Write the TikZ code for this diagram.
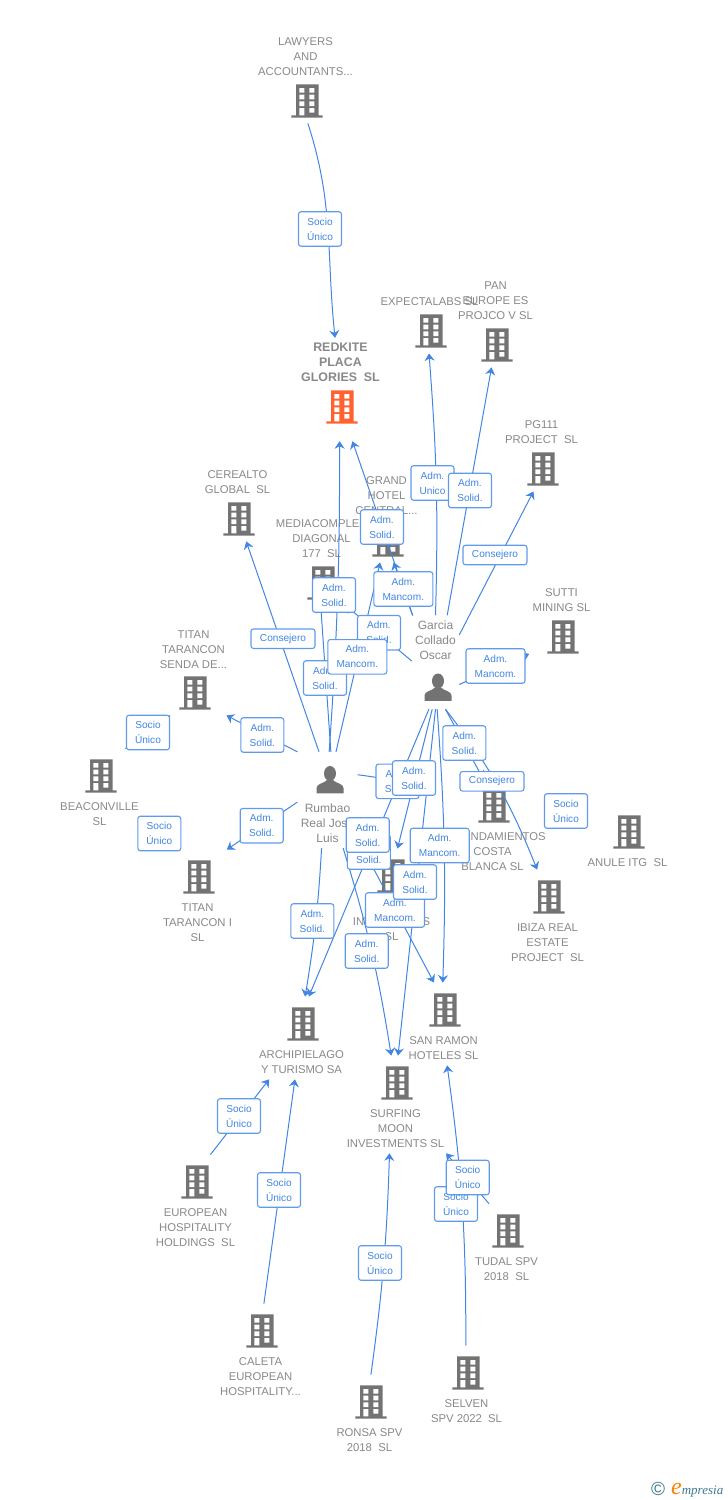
\documentclass[tikz,border=0pt]{standalone}
\usepackage{fontspec}
\setmainfont{Liberation Sans}
\newfontfamily\logofont{Liberation Serif}
\usetikzlibrary{positioning,fit,arrows.meta}
\definecolor{MyBlue}{RGB}{66,133,226}
\definecolor{MyEdge}{RGB}{96,155,235}
\definecolor{MyGrey}{RGB}{136,136,136}
\definecolor{MyIcon}{RGB}{115,115,115}
\definecolor{MyOrange}{RGB}{255,98,48}
\definecolor{MyTeal}{RGB}{60,120,145}
\tikzset{
  lbl/.style={font=\fontsize{11.3}{15}\selectfont, text=MyGrey, align=center, inner sep=0pt},
  slot above/.style={minimum width=32pt, minimum height=34pt, inner sep=0pt},
  slot below/.style={minimum width=32pt, minimum height=44pt, inner sep=0pt},
  text above/.style={above=7.5pt of #1},
  text below/.style={below=4.5pt of #1},
  box/.style={inner xsep=3pt, inner ysep=5pt},
  link/.style={MyBlue, line width=1pt, -{Stealth[length=7.5pt,width=10pt,inset=2.5pt]}},
  tag/.style={draw=MyEdge, line width=1.1pt, rounded corners=2.5pt, fill=white, text=MyBlue,
    font=\fontsize{10.1}{15}\selectfont, align=center, inner sep=0pt, minimum width=43pt, minimum height=34.5pt},
  wide/.style={minimum width=59pt},
  oneline/.style={minimum width=64pt, minimum height=19.5pt},
  bldg/.pic={
    \fill[pic actions] (-11,-16.7) rectangle (11.5,15) (-15.7,14.3) rectangle (15.7,16.7);
    \fill[white] (-7.7,-13) rectangle (-2.7,-8.3) (2.3,-13) rectangle (7.3,-8.3)
      (-7.7,-6.3) rectangle (-2.7,-1.7) (2.3,-6.3) rectangle (7.3,-1.7)
      (-7.7,.3) rectangle (-2.7,5) (2.3,.3) rectangle (7.3,5)
      (-7.7,7) rectangle (-2.7,14.3) (2.3,7) rectangle (7.3,11.7);
  },
  pers/.pic={
    \fill[pic actions] (0,-6.5) ellipse (6 and 7.5);
    \fill[pic actions] (-13.5,13.3) -- (-13.5,8) .. controls (-13.5,3.5) and (-6,3.5) .. (-3,0)
      -- (3,0) .. controls (6,3.5) and (13.5,3.5) .. (13.5,8) -- (13.5,13.3) -- cycle;
  }
}
% name, x, y, text, side of the text
\newcommand{\company}[6][MyIcon]{
  \node[slot #6] (#2i) at (#3,#4) {};
  \pic[#1] at (#2i) {bldg};
  \node[lbl, text #6=#2i, xshift=-1.5pt] (#2t) {#5};
  \node[box, fit=(#2i)(#2t)] (#2) {};
}
% name, x, y, text, side of the text, far end of the box
\newcommand{\person}[6]{
  \node[slot above, minimum height=27pt] (#1i) at (#2,#3) {};
  \pic[MyIcon] at (#1i) {pers};
  \node[lbl, font=\fontsize{12}{15}\selectfont, #5 #1i, xshift=-2.5pt] (#1t) {#4};
  \coordinate (#1e) at #6;
  \node[box, fit=(#1i)(#1t)(#1e)] (#1) {};
}
\newcommand{\mainline}[1]{{\fontsize{12.4}{15}\selectfont\bfseries #1}}
\begin{document}
\begin{tikzpicture}[x=1pt,y=-1pt,node distance=10pt]
\useasboundingbox (0,0) rectangle (728,1500);
% companies
\company{lawyers}{307}{101}{LAWYERS\\AND\\ACCOUNTANTS...}{above}
\company[MyOrange]{redkite}{342}{407}{\mainline{REDKITE}\\\mainline{PLACA}\\\mainline{GLORIES~~SL}}{above}
\coordinate (redkitef) at (342,441);
\node[inner sep=0pt, fit=(redkite)(redkitef)] (redkitex) {};
\company{expecta}{431}{331}{EXPECTALABS SL}{above}
\company{pan}{497}{345}{PAN\\EUROPE ES\\PROJCO V SL}{above}
\company{pgone}{543}{469}{PG111\\PROJECT~~SL}{above}
\company{sutti}{563}{637}{SUTTI\\MINING SL}{above}
\company{cerealto}{239}{519}{CEREALTO\\GLOBAL~~SL}{above}
\company{grand}{388}{540}{GRAND\\HOTEL\\CENTRAL...}{above}
\company{media}{323}{583}{MEDIACOMPLEX\\DIAGONAL\\177~~SL}{above}
\company{senda}{195}{693}{TITAN\\TARANCON\\SENDA DE...}{above}
\company{beacon}{101}{776}{BEACONVILLE\\SL}{below}
\company{titan}{199}{877}{TITAN\\TARANCON I\\SL}{below}
\company{arrend}{494}{806}{ARRENDAMIENTOS\\COSTA\\BLANCA SL}{below}
\company{anule}{629}{832}{ANULE ITG~~SL}{below}
\company{ibiza}{549}{897}{IBIZA REAL\\ESTATE\\PROJECT~~SL}{below}
\company{inver}{393}{876}{ALAMEDA\\INVERSIONES\\SL}{below}
\company{archi}{303}{1024}{ARCHIPIELAGO\\Y TURISMO SA}{below}
\company{ramon}{445}{1010}{SAN RAMON\\HOTELES SL}{below}
\company{surf}{397}{1083}{SURFING\\MOON\\INVESTMENTS SL}{below}
\company{euro}{197}{1182}{EUROPEAN\\HOSPITALITY\\HOLDINGS~~SL}{below}
\company{caleta}{262}{1331}{CALETA\\EUROPEAN\\HOSPITALITY...}{below}
\company{ronsa}{371}{1402}{RONSA SPV\\2018~~SL}{below}
\company{selven}{468}{1373}{SELVEN\\SPV 2022~~SL}{below}
\company{tudal}{508}{1231}{TUDAL SPV\\2018~~SL}{below}
% people
\person{garcia}{438}{687.5}{Garcia\\Collado\\Oscar}{above=14pt of}{(438,704)}
\person{rumbao}{330}{780}{Rumbao\\Real José\\Luis}{below=10pt of}{(327,757)}
% connectors
\draw[link] (lawyers.-87) to[out=-72,in=96] (redkitex.96.5);
\draw[link] (garcia.90.6) to[bend right=3] (expecta.-91.8);
\draw[link] (garcia.76.5) to (pan.-95);
\draw[link] (garcia.49) to (pgone.-102);
\draw[link] (garcia.-43) to (sutti.225);
\draw[link] (garcia.116.6) to (grand.-81);
\draw[link] (garcia.177.5) to (media.-62);
\draw[link] (garcia.116.6) to (redkitex.-77.5);
\draw[link] (rumbao.100.7) to (cerealto.-77.5);
\draw[link] (rumbao.122.4) to (senda.-54.4);
\draw[link] (rumbao.184) to (titan.59);
\draw[link] (rumbao.86.4) to (media.-91.3);
\draw[link] (rumbao.88.8) to[bend right=2] (redkitex.-91);
\draw[link] (rumbao.80.5) to (grand.-98);
\draw[link] (rumbao.-97.2) to[bend left=3] (archi.85.8);
\draw[link] (rumbao.-72.5) to[bend left=4] (surf.95.9);
\draw[link] (rumbao.40.4) to[bend left=5] (arrend.148);
\draw[link] (rumbao.-52) to (ramon.103);
\draw[link] (garcia.-94.2) to (inver.83.8);
\draw[link] (garcia.-98.9) to (archi.80.3);
\draw[link] (garcia.-90.6) to (surf.87.6);
\draw[link] (garcia.-88.2) to[bend left=3] (ramon.91.5);
\draw[link] (garcia.-78.8) to[bend left=8] (ibiza.102.2);
\draw[link] (garcia.-78.8) to (arrend.101.8);
\draw[link] (beacon.58) to (senda.-117.3);
\draw[link] (titan.109.3) to (beacon.-34.4);
\draw[link] (anule.145) to (arrend.13.7);
\draw[link] (euro.73.2) to (archi.-128);
\draw[link] (caleta.86.3) to (archi.-99.7);
\draw[link] (ronsa.88.5) to[bend right=3] (surf.-97);
\draw[link] (selven.91.5) to[bend right=4] (ramon.-85.5);
\draw[link] (tudal.113.2) to (surf.-44.1);
% tags
\node[tag] (tSocioA) at (320,229) {Socio\\Único};
\node[tag] (tUnico) at (432.5,483) {Adm.\\Unico};
\node[tag] (tSolidA) at (470,490.5) {Adm.\\Solid.};
\node[tag,oneline] (tConsA) at (495,555) {Consejero};
\node[tag] (tSolidB) at (382,527) {Adm.\\Solid.};
\node[tag,wide] (tManA) at (403.3,589) {Adm.\\Mancom.};
\node[tag] (tSolidC) at (334,595) {Adm.\\Solid.};
\node[tag,oneline] (tConsB) at (283,638.7) {Consejero};
\node[tag] (tSolidD) at (379,632.7) {Adm.\\Solid.};
\node[tag] (tSolidE) at (325,678) {Adm.\\Solid.};
\node[tag,wide] (tManB) at (357.3,656.8) {Adm.\\Mancom.};
\node[tag,wide] (tManC) at (495.5,666) {Adm.\\Mancom.};
\node[tag] (tSolidF) at (262.3,735) {Adm.\\Solid.};
\node[tag] (tSocioB) at (148,732.5) {Socio\\Único};
\node[tag] (tSocioC) at (159.3,833.5) {Socio\\Único};
\node[tag] (tSolidG) at (261.7,825.7) {Adm.\\Solid.};
\node[tag] (tSolidH) at (464.3,743) {Adm.\\Solid.};
\node[tag,oneline] (tConsC) at (492,781.3) {Consejero};
\node[tag] (tSocioD) at (566,811) {Socio\\Único};
\node[tag] (tSolidI) at (397.5,781.3) {Adm.\\Solid.};
\node[tag] (tSolidJ) at (414,778) {Adm.\\Solid.};
\node[tag] (tSolidK) at (368.8,852) {Adm.\\Solid.};
\node[tag] (tSolidL) at (367.7,835) {Adm.\\Solid.};
\node[tag,wide] (tManD) at (439.7,845.5) {Adm.\\Mancom.};
\node[tag,wide] (tManE) at (395,910) {Adm.\\Mancom.};
\node[tag] (tSolidM) at (415,882) {Adm.\\Solid.};
\node[tag] (tSolidN) at (312.3,921) {Adm.\\Solid.};
\node[tag] (tSolidO) at (366.7,951) {Adm.\\Solid.};
\node[tag] (tSocioE) at (239,1116) {Socio\\Único};
\node[tag] (tSocioF) at (279,1190) {Socio\\Único};
\node[tag] (tSocioG) at (380,1263) {Socio\\Único};
\node[tag] (tSocioH) at (456,1204) {Socio\\Único};
\node[tag] (tSocioI) at (467.7,1177.5) {Socio\\Único};
% logo
\node[font=\fontsize{19}{19}\selectfont, text=MyTeal, inner sep=0pt] (copyr) at (658,1489) {©};
\node[font=\logofont\fontsize{13}{13}\selectfont\itshape, text=MyTeal, inner sep=0pt, anchor=base west] (logo) at (671,1494) {\textcolor{orange}{\fontsize{24}{24}\selectfont e}mpresia};
\end{tikzpicture}
\end{document}
